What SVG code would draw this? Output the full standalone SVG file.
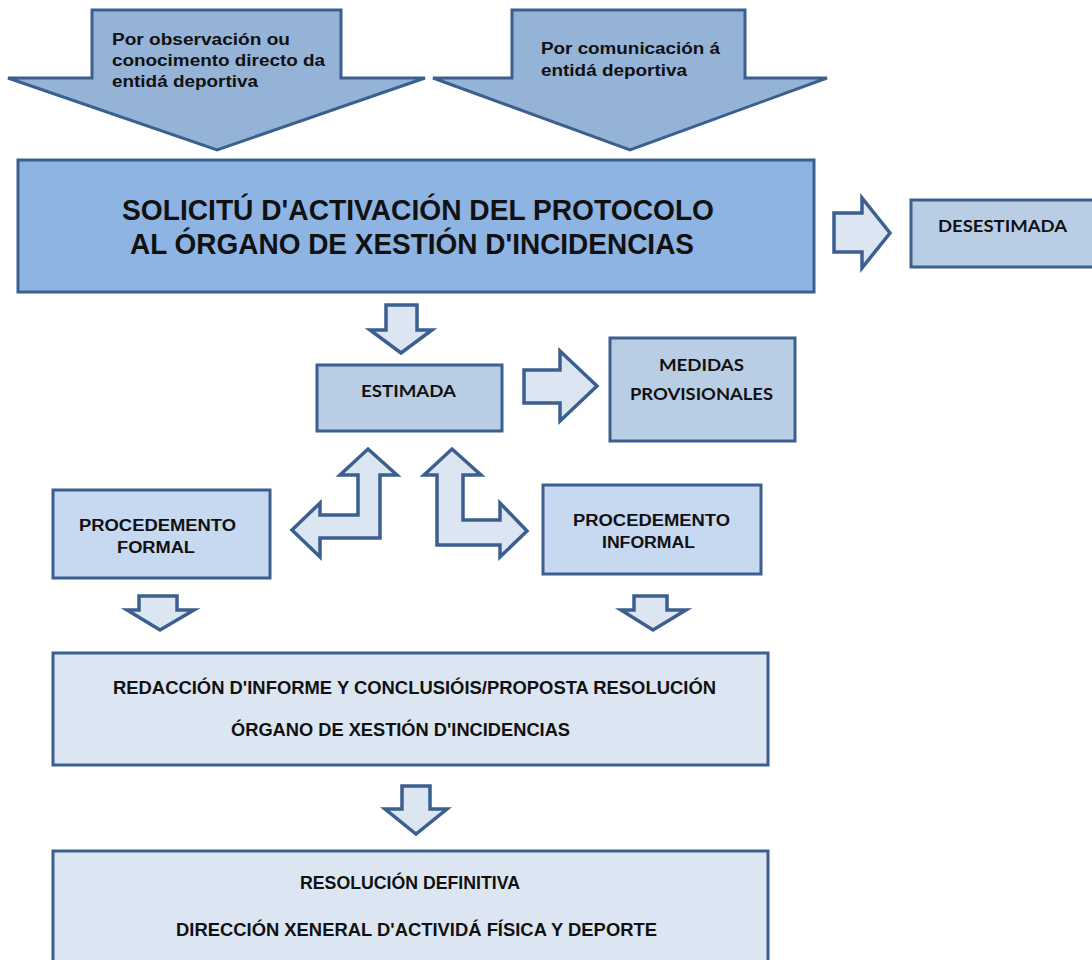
<svg xmlns="http://www.w3.org/2000/svg" width="1092" height="960" viewBox="0 0 1092 960">
<style>
.big{fill:#95b3d7;stroke:#3b5f8e;stroke-width:3;stroke-linejoin:miter}
.hol{fill:#dce6f2;stroke:#3b5f8e;stroke-width:3.5;stroke-linejoin:miter}
.box{stroke:#3b5f8e;stroke-width:3}
.ar{font-family:"Liberation Sans",Arial,sans-serif;font-weight:bold;fill:#111}
.cal{font-family:Lato,"Liberation Sans",sans-serif;font-weight:bold;fill:#111}
</style>
<rect width="1092" height="960" fill="#ffffff"/>

<g id="input-observacion">
<polygon class="big" points="92,10 341,10 341,78 425,78 217,150 8,78 92,78"/>
<text class="ar" font-size="16" x="112" y="45" textLength="178" lengthAdjust="spacingAndGlyphs">Por observación ou</text>
<text class="ar" font-size="16" x="112" y="66" textLength="213" lengthAdjust="spacingAndGlyphs">conocimento directo da</text>
<text class="ar" font-size="16" x="112" y="87" textLength="146" lengthAdjust="spacingAndGlyphs">entidá deportiva</text>
</g>

<g id="input-comunicacion">
<polygon class="big" points="512,10 745,10 745,78 827,78 630,150 433,78 512,78"/>
<text class="ar" font-size="16" x="541" y="54" textLength="179" lengthAdjust="spacingAndGlyphs">Por comunicación á</text>
<text class="ar" font-size="16" x="541" y="76" textLength="146" lengthAdjust="spacingAndGlyphs">entidá deportiva</text>
</g>

<g id="solicitude">
<rect class="box" x="18" y="160" width="796" height="132" fill="#8eb4e3"/>
<text class="ar" font-size="29" x="122" y="220" textLength="592" lengthAdjust="spacingAndGlyphs">SOLICITÚ D'ACTIVACIÓN DEL PROTOCOLO</text>
<text class="ar" font-size="29" x="130" y="254" textLength="564" lengthAdjust="spacingAndGlyphs">AL ÓRGANO DE XESTIÓN D'INCIDENCIAS</text>
</g>

<g id="desestimada">
<rect class="box" x="911" y="200" width="190" height="67" fill="#b9cde5"/>
<text class="cal" font-size="17" x="938" y="232" textLength="129" lengthAdjust="spacingAndGlyphs">DESESTIMADA</text>
</g>

<g id="estimada">
<rect class="box" x="317" y="365" width="185" height="66" fill="#b9cde5"/>
<text class="cal" font-size="17" x="361" y="397" textLength="95" lengthAdjust="spacingAndGlyphs">ESTIMADA</text>
</g>

<g id="medidas">
<rect class="box" x="610" y="338" width="185" height="103" fill="#b9cde5"/>
<text class="cal" font-size="17" x="659" y="371" textLength="85" lengthAdjust="spacingAndGlyphs">MEDIDAS</text>
<text class="cal" font-size="17" x="630" y="400" textLength="143" lengthAdjust="spacingAndGlyphs">PROVISIONALES</text>
</g>

<g id="procedemento-formal">
<rect class="box" x="53" y="490" width="217" height="88" fill="#c6d9f1"/>
<text class="ar" font-size="16" x="79" y="531" textLength="157" lengthAdjust="spacingAndGlyphs">PROCEDEMENTO</text>
<text class="ar" font-size="16" x="117" y="553" textLength="78" lengthAdjust="spacingAndGlyphs">FORMAL</text>
</g>

<g id="procedemento-informal">
<rect class="box" x="543" y="485" width="218" height="89" fill="#c6d9f1"/>
<text class="ar" font-size="16" x="573" y="526" textLength="157" lengthAdjust="spacingAndGlyphs">PROCEDEMENTO</text>
<text class="ar" font-size="16" x="602" y="548" textLength="93" lengthAdjust="spacingAndGlyphs">INFORMAL</text>
</g>

<g id="redaccion">
<rect class="box" x="53" y="653" width="715" height="112" fill="#dce6f2"/>
<text class="ar" font-size="17.5" x="113" y="694" textLength="603" lengthAdjust="spacingAndGlyphs">REDACCIÓN D'INFORME Y CONCLUSIÓIS/PROPOSTA RESOLUCIÓN</text>
<text class="ar" font-size="17.5" x="231" y="736" textLength="339" lengthAdjust="spacingAndGlyphs">ÓRGANO DE XESTIÓN D'INCIDENCIAS</text>
</g>

<g id="resolucion">
<rect class="box" x="53" y="851" width="715" height="120" fill="#dce6f2"/>
<text class="ar" font-size="17.5" x="300" y="889" textLength="220" lengthAdjust="spacingAndGlyphs">RESOLUCIÓN DEFINITIVA</text>
<text class="ar" font-size="17.5" x="176" y="936" textLength="481" lengthAdjust="spacingAndGlyphs">DIRECCIÓN XENERAL D'ACTIVIDÁ FÍSICA Y DEPORTE</text>
</g>

<g id="connectors">
<polygon class="hol" points="834,213 862,213 862,198 890,233 862,268 862,252 834,252"/>
<polygon class="hol" points="386,305 417,305 417,330 432,330 401,353 370,330 386,330"/>
<polygon class="hol" points="524,370 560,370 560,351 597,386 560,421 560,403 524,403"/>
<polygon class="hol" points="368,449 397,475 380,475 380,538 320,538 320,557 292,530 320,503 320,515 358,515 358,475 340,475"/>
<polygon class="hol" points="452,449 481,475 463,475 463,520 500,520 500,503 527,531 500,557 500,545 437,545 437,475 424,475"/>
<polygon class="hol" points="139,596 177,596 177,610 194,610 160,630 127,610 139,610"/>
<polygon class="hol" points="634,596 667,596 667,610 686,610 653,630 621,610 634,610"/>
<polygon class="hol" points="402,786 430,786 430,809 447,809 416,834 385,809 402,809"/>
</g>
</svg>
